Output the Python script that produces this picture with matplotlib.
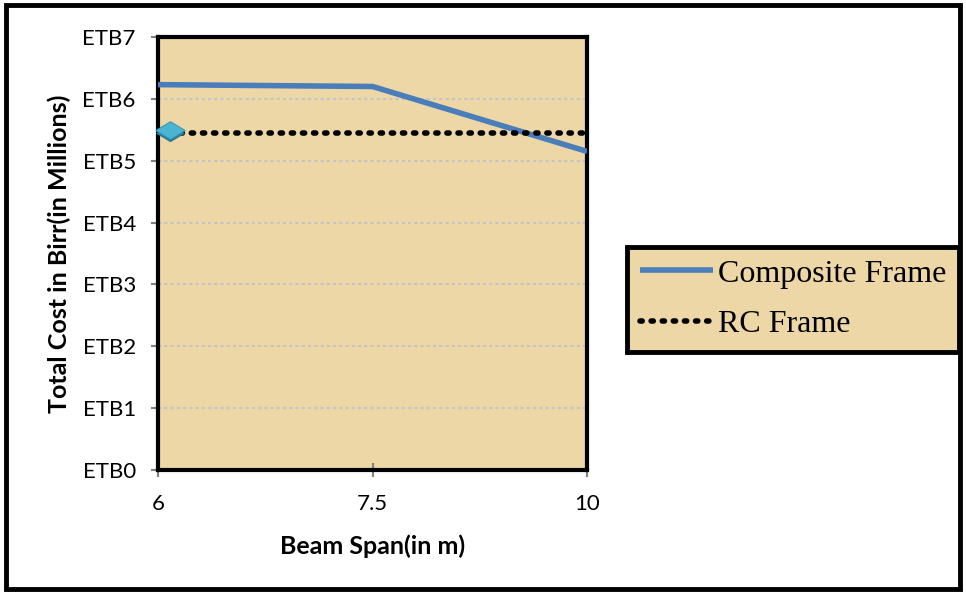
import matplotlib.pyplot as plt
import matplotlib.transforms as mtransforms
from matplotlib.patches import Rectangle

# chart values
spans = ['6', '7.5', '10']
composite_cost = [6.23, 6.20, 5.15]
rc_cost = [5.44, 5.44, 5.44]
rc_marker_cost = 5.49
y_ticks = [0, 1, 2, 3, 4, 5, 6, 7]
y_labels = ['ETB%d' % v for v in y_ticks]

paper = '#EED7A6'

fig = plt.figure(figsize=(9.66, 5.94), dpi=100)

# outer frame round the whole chart
fig.patches.append(Rectangle((0.006, 0.008), 0.988, 0.984, transform=fig.transFigure,
                             fill=False, edgecolor='black', linewidth=3.5))

ax = fig.add_axes([0.1636, 0.2088, 0.4441, 0.7289])
ax.set_facecolor(paper)

x = list(range(len(spans)))
ax.plot(x, composite_cost, color='#4A7EBB', linewidth=4, solid_capstyle='butt',
        label='Composite Frame', zorder=3)
ax.plot(x, rc_cost, color='black', linestyle=(0, (0.4, 1.6)), linewidth=4,
        dash_capstyle='round', label='RC Frame', zorder=3)

# the single 3D-looking diamond marker of the RC series
diamond = [(-1, 0), (0, 0.6), (1, 0), (0, -0.6), (-1, 0)]
shift = mtransforms.ScaledTranslation(12 / 100, 0, fig.dpi_scale_trans)
shadow = mtransforms.ScaledTranslation(12 / 100, -3 / 100, fig.dpi_scale_trans)
ax.plot([x[0]], [rc_marker_cost], marker=diamond, markersize=21, color='#2C7A93',
        markeredgewidth=0, transform=ax.transData + shadow, clip_on=False, zorder=4)
ax.plot([x[0]], [rc_marker_cost], marker=diamond, markersize=21, color='#4BB4D3',
        markeredgecolor='#3A9BB8', markeredgewidth=0.8,
        transform=ax.transData + shift, clip_on=False, zorder=5)

ax.set_xlim(0, 2)
ax.set_ylim(0, 7)
ax.set_xticks(x)
ax.set_xticklabels(spans)
ax.set_yticks(y_ticks)
ax.set_yticklabels(y_labels)

ax.grid(axis='y', color='#C4C4C4', linestyle=(0, (1.5, 1.5)), linewidth=1.5, zorder=1)
ax.set_axisbelow(True)

for s in ax.spines.values():
    s.set_linewidth(3)
    s.set_color('black')

ax.tick_params(axis='y', direction='out', length=5, width=1.5, color='#808080',
               labelsize=16, pad=11)
ax.tick_params(axis='x', direction='inout', length=10, width=1.5, color='#808080',
               labelsize=16, pad=12)
for lab in ax.get_xticklabels() + ax.get_yticklabels():
    lab.set_fontfamily('Lato')

ax.set_xlabel('Beam Span(in m)', fontsize=18, fontweight='bold', family='Lato',
              labelpad=15)
ax.set_ylabel('Total Cost in Birr(in Millions)', fontsize=18, fontweight='bold',
              family='Lato', labelpad=8)

leg = fig.legend(handles=ax.get_lines()[:2], loc='upper left',
                 bbox_to_anchor=(0.649, 0.585), bbox_transform=fig.transFigure,
                 prop={'family': 'Liberation Serif', 'size': 23},
                 fancybox=False, framealpha=1, facecolor=paper, edgecolor='black',
                 handlelength=2.3, handletextpad=0.15, borderpad=0.4,
                 labelspacing=0.66, borderaxespad=0)
leg.get_frame().set_linewidth(3.5)

fig.savefig('out.png', dpi=100)
